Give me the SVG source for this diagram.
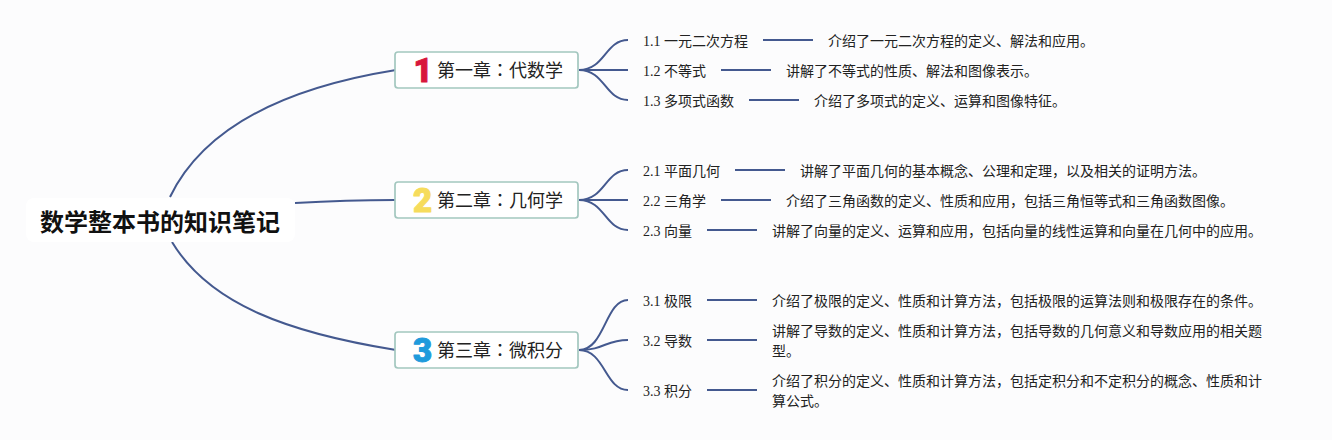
<svg xmlns="http://www.w3.org/2000/svg" width="1332" height="440" viewBox="0 0 1332 440">
<style>
.c{fill:none;stroke:#44598f;stroke-width:2}
text{font-family:"Liberation Serif","Noto Sans CJK SC",sans-serif;fill:#222}
.l{font-size:14px}
.d{font-size:14px;font-family:"Noto Sans CJK SC","Liberation Sans",sans-serif}
.h{font-size:18px;font-family:"Noto Sans CJK SC",sans-serif}
.t{font-family:"Noto Sans CJK TC",sans-serif}
.b{fill:#fff;stroke:#a3c7bf;stroke-width:1.7}
.n{font-family:Roboto,"Liberation Sans",sans-serif;font-weight:900;font-size:33px;text-anchor:middle;stroke-width:1;stroke-linejoin:round}
</style>
<rect width="1332" height="440" fill="#fcfcfd"/>
<g id="connectors">
<path class="c" d="M170 197C205 125 290 87 396 70"/>
<path class="c" d="M295 203C330 201 360 200 395 200"/>
<path class="c" d="M172 242C210 305 290 333 396 350"/>
<path class="c" d="M579 70C605 70 605 40 628 40"/>
<path class="c" d="M579 70H628"/>
<path class="c" d="M579 70C605 70 605 100 628 100"/>
<path class="c" d="M579 200C605 200 605 170 628 170"/>
<path class="c" d="M579 200H628"/>
<path class="c" d="M579 200C605 200 605 230 628 230"/>
<path class="c" d="M579 350C605 350 605 300 628 300"/>
<path class="c" d="M579 350C605 350 605 340 628 340"/>
<path class="c" d="M579 350C605 350 605 390 628 390"/>
<path class="c" d="M763 40H813"/>
<path class="c" d="M721 70H771"/>
<path class="c" d="M749 100H799"/>
<path class="c" d="M735 170H785"/>
<path class="c" d="M721 200H771"/>
<path class="c" d="M707 230H757"/>
<path class="c" d="M707 300H757"/>
<path class="c" d="M707 340H757"/>
<path class="c" d="M707 390H757"/>
</g>
<g id="root">
<rect x="26" y="198" width="269" height="44" rx="8" fill="#fff"/>
<text x="40" y="231" style="font-family:'Noto Sans CJK SC',sans-serif;font-weight:700;font-size:24px;fill:#111">数学整本书的知识笔记</text>
</g>
<g id="ch1">
<rect class="b" x="395" y="52" width="183" height="36" rx="3"/>
<text class="n" x="423" y="81.500" style="fill:#d8163c;stroke:#d8163c">1</text>
<text class="h" x="437" y="77">第一章<tspan class="t">：</tspan>代数学</text>
</g>
<g id="ch2">
<rect class="b" x="395" y="182" width="183" height="36" rx="3"/>
<text class="n" x="422.500" y="211.500" style="fill:#f6dc5c;stroke:#f6dc5c">2</text>
<text class="h" x="437" y="207">第二章<tspan class="t">：</tspan>几何学</text>
</g>
<g id="ch3">
<rect class="b" x="395" y="332" width="183" height="36" rx="3"/>
<text class="n" x="422.500" y="361.500" style="fill:#1f9bdc;stroke:#1f9bdc">3</text>
<text class="h" x="437" y="357">第三章<tspan class="t">：</tspan>微积分</text>
</g>
<g id="n11"><text class="l" x="643" y="46">1.1 一元二次方程</text></g>
<g id="n12"><text class="l" x="643" y="76">1.2 不等式</text></g>
<g id="n13"><text class="l" x="643" y="106">1.3 多项式函数</text></g>
<g id="n21"><text class="l" x="643" y="176">2.1 平面几何</text></g>
<g id="n22"><text class="l" x="643" y="206">2.2 三角学</text></g>
<g id="n23"><text class="l" x="643" y="236">2.3 向量</text></g>
<g id="n31"><text class="l" x="643" y="306">3.1 极限</text></g>
<g id="n32"><text class="l" x="643" y="346">3.2 导数</text></g>
<g id="n33"><text class="l" x="643" y="396">3.3 积分</text></g>
<g id="d11"><text class="d" x="828" y="46">介绍了一元二次方程的定义、解法和应用。</text></g>
<g id="d12"><text class="d" x="786" y="76">讲解了不等式的性质、解法和图像表示。</text></g>
<g id="d13"><text class="d" x="814" y="106">介绍了多项式的定义、运算和图像特征。</text></g>
<g id="d21"><text class="d" x="800" y="176">讲解了平面几何的基本概念、公理和定理，以及相关的证明方法。</text></g>
<g id="d22"><text class="d" x="786" y="206">介绍了三角函数的定义、性质和应用，包括三角恒等式和三角函数图像。</text></g>
<g id="d23"><text class="d" x="772" y="236">讲解了向量的定义、运算和应用，包括向量的线性运算和向量在几何中的应用。</text></g>
<g id="d31"><text class="d" x="772" y="306">介绍了极限的定义、性质和计算方法，包括极限的运算法则和极限存在的条件。</text></g>
<g id="d32"><text class="d" x="772" y="336">讲解了导数的定义、性质和计算方法，包括导数的几何意义和导数应用的相关题</text><text class="d" x="772" y="356">型。</text></g>
<g id="d33"><text class="d" x="772" y="386">介绍了积分的定义、性质和计算方法，包括定积分和不定积分的概念、性质和计</text><text class="d" x="772" y="406">算公式。</text></g>
</svg>
